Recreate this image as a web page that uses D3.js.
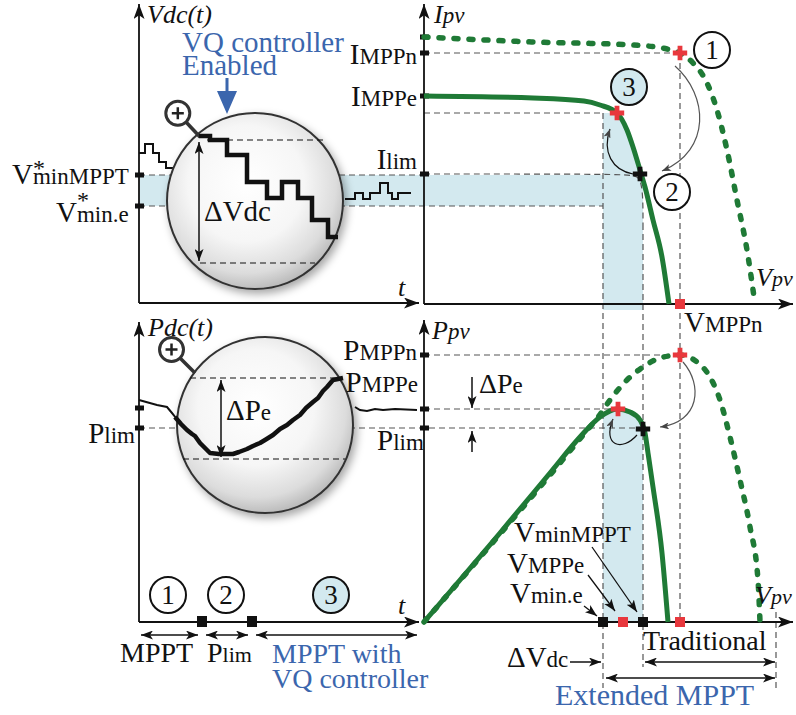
<!DOCTYPE html>
<html>
<head>
<meta charset="utf-8">
<script src="https://cdn.jsdelivr.net/npm/d3@7"></script>
<style>
  body { margin: 0; background: #fff; }
  svg { display: block; }
</style>
</head>
<body>
<main></main>
<script>
const w = 796;
const h = 715;
const green = "#1f7a36";
const red = "#e8383d";
const blue = "#3b66ad";
const pale = "#d3e9ef";
const guide = "#555";
const ink = "#111";
const serif = "'Liberation Serif', 'Times New Roman', serif";

// I-V curves, [V, I]
const ivNormal = [[0, 26.7], [109, 26.2], [209, 25.9], [243, 25.5], [256, 25.1], [269, 24.1],
  [283, 22.1], [293, 19.4], [303, 15.4], [313, 10.4], [323, 5.4], [331, 0]];
const ivExtended = [[0, 20.8], [109, 20.6], [160, 20.3], [176, 19.9], [193, 19.1], [203, 17.4],
  [209, 15.7], [216, 13.4], [221, 11.7], [229, 8.4], [238, 4.7], [245, 0]];
const ivLimit = [[0, 13], [205, 13], [216, 12.8], [219, 11], [219, 8]];

// P-V curves, [V, P]
const pvNormal = [[0, 0], [76, 88], [126, 147], [160, 188], [175, 206], [186, 222], [203, 242],
  [219, 255], [236, 264], [256, 267], [273, 260], [286, 245], [296, 222], [306, 185],
  [316, 142], [326, 95], [334, 42], [336, 0]];
const pvExtended = [[0, 0], [76, 89], [126, 149], [156, 185], [176, 205], [193, 213], [206, 210],
  [216, 202], [221, 189], [224, 169], [229, 135], [238, 69], [244, 0]];

// operating points
const mppN = { v: 256, i: 25.1, p: 267 };
const mppE = { v: 193, i: 19.1, p: 213 };
const limIV = { v: 216, i: 13.0 };
const limPV = { v: 219, p: 193 };

// axis ticks
const iTicks = [26.7, 25.1, 20.8, 13.0];
const pTicks = [267, 213, 194];
const vdcTicks = [128, 97];
const pdcTicks = [214, 194];
const vMarks = [{ v: 179, c: ink }, { v: 199, c: red }, { v: 219, c: ink }, { v: 256, c: red }];
const tMarks = [6.3, 11.3];

// time signals, [t, value]
const vdcBefore = [[0, 150], [0.6, 159], [1.4, 150], [2.0, 141], [2.7, 135], [3.4, 135]];
const vdcZoom = [[6.0, 167], [7.1, 163], [8.8, 148], [10.8, 121], [12.8, 105], [14.3, 121],
  [15.9, 105], [17.3, 83], [18.9, 66], [19.9, 66]];
const vdcAfter = [[20.6, 104], [21.6, 110], [22.4, 104], [23.1, 110], [24.1, 120], [24.9, 110],
  [25.3, 104], [25.9, 110], [27.2, 110]];
const pdcBefore = [[0, 222], [1.8, 217], [2.8, 215], [3.3, 209], [3.7, 204]];
const pdcZoom = [[3.6, 205], [4.2, 198], [4.8, 192], [5.3, 188], [5.6, 186], [6.1, 179], [6.6, 174],
  [7.1, 169], [8.0, 168], [9.4, 168], [10.0, 170], [10.8, 173], [11.4, 176], [12.1, 179],
  [12.6, 182], [13.4, 187], [14.1, 193], [14.8, 197], [15.4, 202], [16.1, 207], [16.7, 214],
  [17.4, 220], [17.9, 224], [18.4, 231], [18.8, 235], [19.4, 242], [20.4, 244]];
const pdcAfter = [[21.6, 215], [22.1, 212], [22.8, 211], [23.6, 213], [24.4, 212], [25.6, 213], [27.8, 212]];

const svg = d3.select("main").append("svg").attr("width", w).attr("height", h);

const xT = d3.scaleLinear().domain([0, 28]).range([139, 419]);
const yVdc = d3.scaleLinear().domain([0, 297]).range([303, 6]);
const yPdc = d3.scaleLinear().domain([0, 300]).range([622, 322]);
const xV = d3.scaleLinear().domain([0, 366]).range([424, 790]);
const yI = d3.scaleLinear().domain([0, 30]).range([304, 4]);
const yP = d3.scaleLinear().domain([0, 300]).range([622, 322]);

const defs = svg.append("defs");
function marker(id, mw, mh, fill) {
  defs.append("marker").attr("id", id)
    .attr("viewBox", `0 0 ${mw} ${mh}`)
    .attr("refX", mw).attr("refY", mh / 2)
    .attr("markerWidth", mw).attr("markerHeight", mh)
    .attr("markerUnits", "userSpaceOnUse")
    .attr("orient", "auto-start-reverse")
    .append("path")
    .attr("d", `M0,0L${mw},${mh / 2}L0,${mh}L${mw * 0.25},${mh / 2}Z`)
    .attr("fill", fill);
}
marker("axis", 15, 11, ink);
marker("arr", 12, 9, ink);
marker("garr", 9, 7, "#444");

const lens = defs.append("radialGradient").attr("id", "lens").attr("cx", "45%").attr("cy", "40%").attr("r", "60%");
lens.append("stop").attr("offset", "0%").attr("stop-color", "#ffffff");
lens.append("stop").attr("offset", "55%").attr("stop-color", "#f6f6f6");
lens.append("stop").attr("offset", "85%").attr("stop-color", "#dcdcdc");
lens.append("stop").attr("offset", "100%").attr("stop-color", "#bdbdbd");
const shadow = defs.append("filter").attr("id", "shadow").attr("x", "-20%").attr("y", "-20%").attr("width", "150%").attr("height", "150%");
shadow.append("feDropShadow").attr("dx", 3).attr("dy", 4).attr("stdDeviation", 4).attr("flood-color", "#000").attr("flood-opacity", 0.35);

defs.append("clipPath").attr("id", "clipTop").append("rect")
  .attr("x", xV(179)).attr("y", yI(mppE.i)).attr("width", xV(219) - xV(179)).attr("height", yI(-0.6) - yI(mppE.i));
defs.append("clipPath").attr("id", "clipBot").append("rect")
  .attr("x", xV(179)).attr("y", yP(300)).attr("width", xV(219) - xV(179)).attr("height", yP(0) - yP(300));

// ---------- blue shading ----------
svg.append("rect")
  .attr("x", xT(0)).attr("y", yVdc(128))
  .attr("width", xV(179) - xT(0)).attr("height", yVdc(97) - yVdc(128))
  .attr("fill", pale);
svg.append("path").datum(ivExtended)
  .attr("clip-path", "url(#clipTop)")
  .attr("fill", pale)
  .attr("d", d3.area().x((d) => xV(d[0])).y0(yI(-0.6)).y1((d) => yI(d[1])).curve(d3.curveMonotoneX));
svg.append("path").datum(pvExtended)
  .attr("clip-path", "url(#clipBot)")
  .attr("fill", pale)
  .attr("d", d3.area().x((d) => xV(d[0])).y0(yP(0)).y1((d) => yP(d[1])).curve(d3.curveMonotoneX));

// ---------- dashed guides ----------
const guides = svg.append("g").attr("stroke", guide).attr("stroke-width", 1.2)
  .attr("stroke-dasharray", "6,4").attr("fill", "none");
function hline(y, x1, x2) {
  guides.append("line").attr("x1", x1).attr("x2", x2).attr("y1", y).attr("y2", y);
}
function vline(x, y1, y2) {
  guides.append("line").attr("x1", x).attr("x2", x).attr("y1", y1).attr("y2", y2);
}
hline(yI(mppN.i), xV(0), xV(mppN.v));
hline(yI(mppE.i), xV(0), xV(179));
hline(yVdc(128), xT(0), xV(0));
hline(yVdc(97), xT(0), xV(179));
hline(yP(mppN.p), xV(0), xV(mppN.v));
hline(yP(mppE.p), xV(0), xV(mppE.v));
hline(yPdc(194), xT(0), xV(limPV.v));
vline(xV(179), yI(mppE.i), 688);
vline(xV(219), yI(8), 667);
vline(xV(mppN.v), yI(mppN.i), yP(0));
vline(xV(352), 612, 690);
guides.append("path").datum(ivLimit)
  .attr("d", d3.line().x((d) => xV(d[0])).y((d) => yI(d[1])).curve(d3.curveBasis));

// ---------- signals outside the lenses ----------
const vdcLine = d3.line().x((d) => xT(d[0])).y((d) => yVdc(d[1])).curve(d3.curveStepAfter);
const pdcLine = d3.line().x((d) => xT(d[0])).y((d) => yPdc(d[1]));
[vdcBefore, vdcAfter].forEach((s) =>
  svg.append("path").datum(s).attr("d", vdcLine).attr("fill", "none").attr("stroke", ink).attr("stroke-width", 2));
[pdcBefore, pdcAfter].forEach((s) =>
  svg.append("path").datum(s).attr("d", pdcLine).attr("fill", "none").attr("stroke", ink).attr("stroke-width", 2));

// ---------- magnifiers ----------
function magnifier(cx, cy, r, hx, hy, ex, ey) {
  svg.append("circle").attr("cx", cx).attr("cy", cy).attr("r", r)
    .attr("fill", "url(#lens)").attr("stroke", "#333").attr("stroke-width", 2)
    .attr("filter", "url(#shadow)");
  svg.append("line").attr("x1", hx).attr("y1", hy).attr("x2", ex).attr("y2", ey)
    .attr("stroke", "#333").attr("stroke-width", 3.5);
  const dx = ex - hx, dy = ey - hy, len = Math.hypot(dx, dy);
  const kx = hx - (dx / len) * 12, ky = hy - (dy / len) * 12;
  svg.append("circle").attr("cx", kx).attr("cy", ky).attr("r", 12)
    .attr("fill", "#fff").attr("stroke", "#333").attr("stroke-width", 3);
  svg.append("path").attr("d", `M${kx - 6},${ky}H${kx + 6}M${kx},${ky - 6}V${ky + 6}`)
    .attr("stroke", "#222").attr("stroke-width", 2.5);
}
magnifier(255, 201, 88, 186, 122, 200, 137);
magnifier(265, 425, 88, 180, 358, 195, 373);

const zoomGuides = svg.append("g").attr("stroke", ink).attr("stroke-width", 1.2).attr("stroke-dasharray", "6,4");
zoomGuides.append("line").attr("x1", xT(6.8)).attr("x2", xT(18.6)).attr("y1", yVdc(163)).attr("y2", yVdc(163));
zoomGuides.append("line").attr("x1", xT(6.1)).attr("x2", xT(17.6)).attr("y1", yVdc(40)).attr("y2", yVdc(40));
zoomGuides.append("line").attr("x1", xT(5.1)).attr("x2", xT(20.1)).attr("y1", yPdc(244)).attr("y2", yPdc(244));
zoomGuides.append("line").attr("x1", xT(4.4)).attr("x2", xT(20.6)).attr("y1", yPdc(163)).attr("y2", yPdc(163));

svg.append("path").datum(vdcZoom).attr("d", vdcLine).attr("fill", "none")
  .attr("stroke", ink).attr("stroke-width", 4.5).attr("stroke-linejoin", "miter");
svg.append("path").datum(pdcZoom).attr("d", pdcLine).attr("fill", "none")
  .attr("stroke", ink).attr("stroke-width", 4.5).attr("stroke-linejoin", "round");

function arrow(x1, y1, x2, y2, both, width) {
  const l = svg.append("line").attr("x1", x1).attr("y1", y1).attr("x2", x2).attr("y2", y2)
    .attr("stroke", ink).attr("stroke-width", width || 1.5).attr("marker-end", "url(#arr)");
  if (both) l.attr("marker-start", "url(#arr)");
  return l;
}
arrow(xT(6.0), yVdc(161), xT(6.0), yVdc(42), true);
arrow(xT(8.2), yPdc(242), xT(8.2), yPdc(165), true);

// ---------- axes ----------
function axis(x0, y0, x1, y1) {
  svg.append("line").attr("x1", x0).attr("y1", y0).attr("x2", x1).attr("y2", y1)
    .attr("stroke", ink).attr("stroke-width", 1.8).attr("marker-end", "url(#axis)");
}
axis(xT(0), yVdc(0), xT(0), 4);
axis(xT(0), yVdc(0), 419, yVdc(0));
axis(xV(0), yI(0), xV(0), 4);
axis(xV(0), yI(0), 793, yI(0));
axis(xT(0), yPdc(0), xT(0), 322);
axis(xT(0), yPdc(0), 419, yPdc(0));
axis(xV(0), yP(0), xV(0), 320);
axis(xV(0), yP(0), 793, yP(0));

function ticks(vals, x, y) {
  svg.append("g").selectAll("rect").data(vals).join("rect")
    .attr("x", x - 4).attr("y", (d) => y(d) - 2.5).attr("width", 9).attr("height", 5).attr("fill", ink);
}
ticks(vdcTicks, xT(0), yVdc);
ticks(pdcTicks, xT(0), yPdc);
ticks(iTicks, xV(0), yI);
ticks(pTicks, xV(0), yP);

// ---------- PV curves ----------
const ivLine = d3.line().x((d) => xV(d[0])).y((d) => yI(d[1])).curve(d3.curveMonotoneX);
const pvLine = d3.line().x((d) => xV(d[0])).y((d) => yP(d[1])).curve(d3.curveMonotoneX);
svg.append("path").datum(ivNormal).attr("d", ivLine).attr("fill", "none").attr("stroke", green)
  .attr("stroke-width", 5.5).attr("stroke-dasharray", "4,11").attr("stroke-linecap", "round");
svg.append("path").datum(pvNormal).attr("d", pvLine).attr("fill", "none").attr("stroke", green)
  .attr("stroke-width", 5.5).attr("stroke-dasharray", "4,11").attr("stroke-linecap", "round");
svg.append("path").datum(ivExtended).attr("d", ivLine).attr("fill", "none").attr("stroke", green).attr("stroke-width", 5);
svg.append("path").datum(pvExtended).attr("d", pvLine).attr("fill", "none").attr("stroke", green).attr("stroke-width", 5);

// ---------- markers ----------
const cross = d3.symbol().type(d3.symbolCross).size(115);
function plus(x, y, c) {
  svg.append("path").attr("d", cross).attr("transform", `translate(${x},${y})`).attr("fill", c);
}
plus(xV(mppN.v), yI(mppN.i), red);
plus(xV(mppE.v), yI(mppE.i), red);
plus(xV(limIV.v), yI(limIV.i), ink);
plus(xV(mppN.v), yP(mppN.p), red);
plus(xV(mppE.v) + 1, yP(mppE.p), red);
plus(xV(limPV.v), yP(limPV.p), ink);

svg.append("g").selectAll("rect").data(vMarks).join("rect")
  .attr("x", (d) => xV(d.v) - 5).attr("y", yP(0) - 5).attr("width", 10).attr("height", 10)
  .attr("fill", (d) => d.c);
svg.append("rect").attr("x", xV(mppN.v) - 5).attr("y", yI(0) - 5).attr("width", 10).attr("height", 10).attr("fill", red);
svg.append("g").selectAll("rect").data(tMarks).join("rect")
  .attr("x", (d) => xT(d) - 5).attr("y", yPdc(0) - 6).attr("width", 10).attr("height", 11).attr("fill", ink);

// curved transition arrows
function bend(d, color, mk) {
  svg.append("path").attr("d", d).attr("fill", "none").attr("stroke", color)
    .attr("stroke-width", 1.2).attr("marker-end", `url(#${mk})`);
}
bend("M675,66 C708,95 712,150 662,171", "#555", "garr");
bend("M633,174 C612,170 602,152 610,129", ink, "garr");
bend("M683,362 C703,385 700,422 660,427", "#555", "garr");
bend("M637,435 C622,452 602,446 613,419", ink, "garr");

// ---------- text ----------
function txt(x, y, s, size, opt = {}) {
  return svg.append("text").attr("x", x).attr("y", y).attr("font-size", size)
    .style("font-family", serif)
    .attr("fill", opt.fill || ink).attr("text-anchor", opt.anchor || "start")
    .attr("font-style", opt.italic ? "italic" : "normal").text(s);
}
function sub(x, y, big, small, opt = {}) {
  const t = svg.append("text").attr("x", x).attr("y", y).style("font-family", serif)
    .attr("fill", opt.fill || ink).attr("text-anchor", opt.anchor || "start")
    .attr("font-style", opt.italic ? "italic" : "normal");
  t.append("tspan").attr("font-size", opt.big || 29).text(big);
  t.append("tspan").attr("font-size", opt.small || 23).text(small);
  return t;
}
function badge(x, y, n, fill) {
  svg.append("circle").attr("cx", x).attr("cy", y).attr("r", 18)
    .attr("fill", fill || "#fff").attr("stroke", ink).attr("stroke-width", 2);
  txt(x, y + 9, n, 27, { anchor: "middle" });
}

txt(147, 23, "Vdc(t)", 26, { italic: true });
txt(398, 296, "t", 26, { italic: true });
sub(434, 23, "I", "pv", { italic: true, big: 26, small: 23 });
sub(756, 286, "V", "pv", { italic: true, big: 26, small: 22 });
txt(148, 336, "Pdc(t)", 26, { italic: true });
txt(398, 614, "t", 26, { italic: true });
sub(432, 339, "P", "pv", { italic: true, big: 26, small: 23 });
sub(755, 604, "V", "pv", { italic: true, big: 26, small: 22 });

txt(182, 52, "VQ controller", 29, { fill: blue });
txt(182, 75, "Enabled", 29, { fill: blue });
svg.append("path").attr("d", "M225.5,78 L228.5,78 L228.5,91 L237,91 L227,114 L217,91 L225.5,91 Z").attr("fill", blue);

sub(12, 184, "V", "minMPPT");
txt(33, 176, "*", 24);
sub(56, 222, "V", "min.e");
txt(77, 208, "*", 24);
txt(204, 221, "ΔVdc", 29);

sub(417, 64, "I", "MPPn", { anchor: "end" });
sub(417, 106, "I", "MPPe", { anchor: "end" });
sub(417, 169, "I", "lim", { anchor: "end" });
sub(684, 332, "V", "MPPn");

sub(417, 360, "P", "MPPn", { anchor: "end" });
sub(418, 392, "P", "MPPe", { anchor: "end" });
sub(377, 450, "P", "lim");
sub(135, 443, "P", "lim", { anchor: "end" });
sub(226, 420, "ΔP", "e");

arrow(472, 377, 472, 408, false, 1.5);
arrow(472, 452, 472, 431, false, 1.5);
sub(479, 393, "ΔP", "e", { big: 28, small: 23 });

sub(514, 542, "V", "minMPPT");
sub(507, 573, "V", "MPPe");
sub(510, 603, "V", "min.e");
arrow(592, 547, 637, 612, false, 1.3);
arrow(588, 575, 615, 611, false, 1.3);
arrow(584, 606, 597, 616, false, 1.3);

sub(507, 667, "ΔV", "dc");
arrow(570, 662, xV(179) - 2, 662, false, 1.5);
txt(643, 650, "Traditional", 28);
arrow(xV(219) + 2, 662, xV(352) - 1, 662, true, 1.5);
arrow(xV(179) + 3, 678, xV(352) - 1, 678, true, 1.5);
txt(555, 705, "Extended MPPT", 30, { fill: blue });

badge(712, 50, "1");
badge(672, 192, "2");
badge(629, 87, "3", pale);

badge(168, 595, "1");
badge(226, 595, "2");
badge(331, 595, "3", pale);
arrow(xT(0) + 2, 635, xT(6.3) - 4, 635, true, 1.5);
arrow(xT(6.3) + 4, 635, xT(11.3) - 4, 635, true, 1.5);
arrow(xT(11.3) + 4, 635, xT(27.8), 635, true, 1.5);
txt(120, 662, "MPPT", 28);
sub(207, 662, "P", "lim", { big: 28, small: 22 });
txt(272, 663, "MPPT with", 28, { fill: blue });
txt(272, 688, "VQ controller", 28, { fill: blue });
</script>
</body>
</html>
